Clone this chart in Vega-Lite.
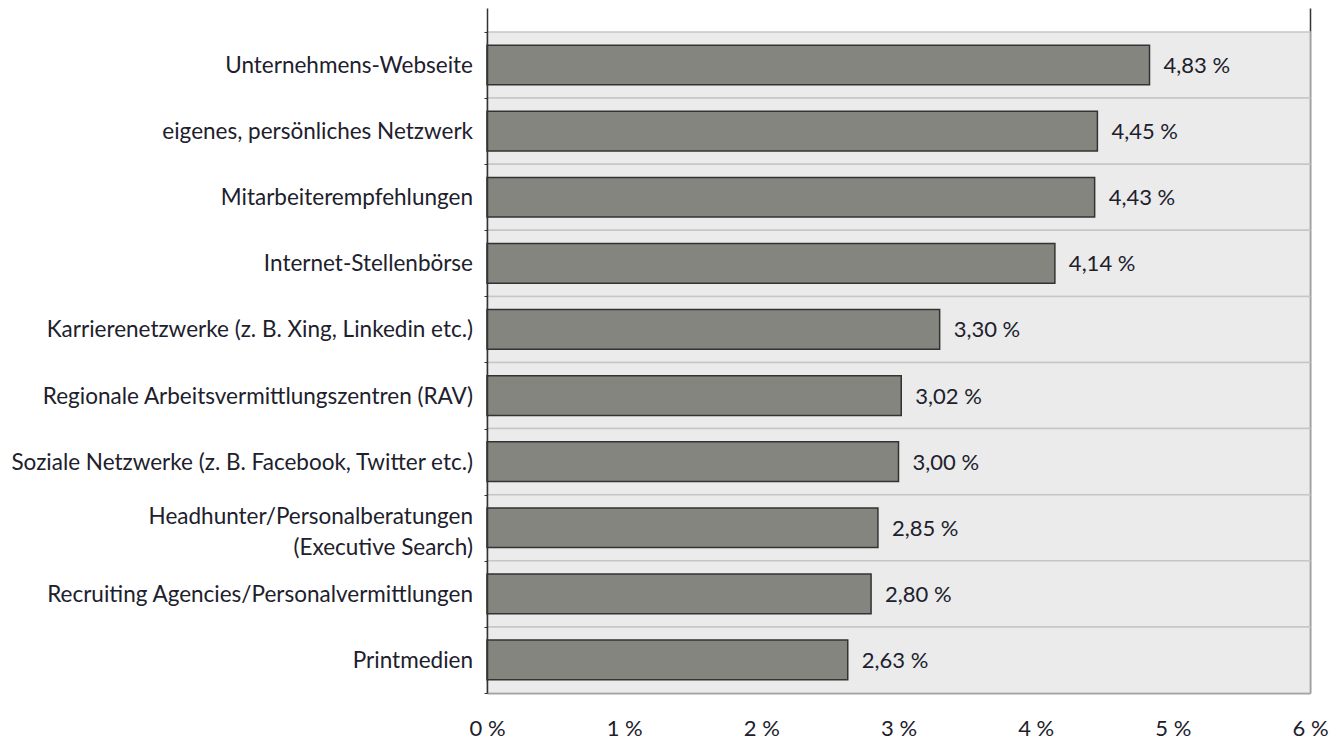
{
  "$schema": "https://vega.github.io/schema/vega-lite/v6.json",
  "width": 823,
  "height": 685,
  "padding": {"left": 10, "top": 8, "right": 5, "bottom": 0},
  "background": "white",
  "data": {
    "values": [
      {"kanal": "Unternehmens-Webseite", "wert": 4.83, "zeilen": 1},
      {"kanal": "eigenes, persönliches Netzwerk", "wert": 4.45, "zeilen": 1},
      {"kanal": "Mitarbeiterempfehlungen", "wert": 4.43, "zeilen": 1},
      {"kanal": "Internet-Stellenbörse", "wert": 4.14, "zeilen": 1},
      {"kanal": "Karrierenetzwerke (z. B. Xing, Linkedin etc.)", "wert": 3.30, "zeilen": 1},
      {"kanal": "Regionale Arbeitsvermittlungszentren (RAV)", "wert": 3.02, "zeilen": 1},
      {"kanal": "Soziale Netzwerke (z. B. Facebook, Twitter etc.)", "wert": 3.00, "zeilen": 1},
      {"kanal": "Headhunter/Personalberatungen|(Executive Search)", "wert": 2.85, "zeilen": 2},
      {"kanal": "Recruiting Agencies/Personalvermittlungen", "wert": 2.80, "zeilen": 1},
      {"kanal": "Printmedien", "wert": 2.63, "zeilen": 1}
    ]
  },
  "layer": [
    {
      "mark": {"type": "rect", "fill": "#ebebeb", "stroke": "#c6c6c6", "strokeWidth": 1.5},
      "encoding": {
        "x": {"datum": 0, "type": "quantitative"},
        "x2": {"datum": 6},
        "y": {
          "field": "kanal",
          "type": "nominal",
          "sort": null,
          "title": null,
          "scale": {"paddingInner": 0, "paddingOuter": 0.1815, "align": 1},
          "axis": {
            "orient": "left",
            "labels": false,
            "domainColor": "#333333",
            "domainWidth": 1.5,
            "tickColor": "#333333",
            "tickSize": 3,
            "tickBand": "extent"
          }
        }
      }
    },
    {
      "mark": {"type": "bar", "fill": "#858580", "stroke": "#333333", "strokeWidth": 1.5, "height": {"band": 0.6}},
      "encoding": {
        "x": {
          "field": "wert",
          "type": "quantitative",
          "scale": {"domain": [0, 6], "nice": false},
          "title": null,
          "axis": {
            "values": [0, 1, 2, 3, 4, 5, 6],
            "grid": false,
            "ticks": false,
            "domainColor": "#444444",
            "domainWidth": 1.5,
            "labelFont": "Lato",
            "labelFontSize": 22,
            "labelColor": "#20202c",
            "labelPadding": 25,
            "labelExpr": "datum.value + ' %'",
            "labelFlush": false
          }
        },
        "y": {
          "field": "kanal",
          "type": "nominal",
          "sort": null,
          "title": null,
          "axis": {
            "orient": "right",
            "labels": false,
            "ticks": false,
            "domainColor": "#333333",
            "domainWidth": 1.5
          }
        }
      }
    },
    {
      "transform": [
        {"calculate": "replace(format(datum.wert, '.2f'), '.', ',') + ' %'", "as": "beschriftung"}
      ],
      "mark": {"type": "text", "align": "left", "baseline": "middle", "dx": 14, "dy": 1, "font": "Lato", "fontSize": 22, "fill": "#20202c"},
      "encoding": {
        "x": {"field": "wert", "type": "quantitative"},
        "y": {"field": "kanal", "type": "nominal", "sort": null, "axis": null},
        "text": {"field": "beschriftung", "type": "nominal"}
      }
    },
    {
      "transform": [{"filter": "datum.zeilen == 1"}],
      "mark": {"type": "text", "align": "right", "baseline": "middle", "dx": -14, "dy": 1, "font": "Lato", "fontSize": 22.5, "fill": "#20202c"},
      "encoding": {
        "x": {"datum": 0, "type": "quantitative"},
        "y": {"field": "kanal", "type": "nominal", "sort": null, "axis": null},
        "text": {"field": "kanal", "type": "nominal"}
      }
    },
    {
      "transform": [{"filter": "datum.zeilen == 2"}],
      "mark": {"type": "text", "align": "right", "baseline": "middle", "dx": -14, "dy": -11, "lineBreak": "|", "lineHeight": 31, "font": "Lato", "fontSize": 22.5, "fill": "#20202c"},
      "encoding": {
        "x": {"datum": 0, "type": "quantitative"},
        "y": {"field": "kanal", "type": "nominal", "sort": null, "axis": null},
        "text": {"field": "kanal", "type": "nominal"}
      }
    }
  ],
  "resolve": {"axis": {"y": "independent"}},
  "config": {"view": {"stroke": null}}
}
